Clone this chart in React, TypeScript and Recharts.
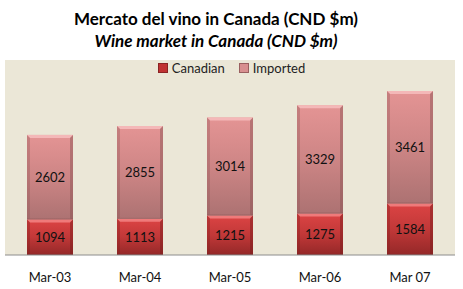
import { BarChart, Bar, XAxis, YAxis, CartesianGrid, LabelList } from 'recharts';

document.body.style.margin = '0';

const categories = ['Mar-03', 'Mar-04', 'Mar-05', 'Mar-06', 'Mar 07'];
const canadian = [1094, 1113, 1215, 1275, 1584];
const imported = [2602, 2855, 3014, 3329, 3461];

const data = categories.map((period, i) => ({
    period,
    canadian: canadian[i],
    imported: imported[i],
}));

const FONT = 'Lato, "Open Sans", sans-serif';

// bar with a bevelled edge, like the Excel look
const BevelBar = (props: any) => {
    const { x, y, width, height, id } = props;
    if (!height || height <= 0) return null;
    const b = 3;
    const light = id === 'canadian' ? '#ef7a7a' : '#f4b8b8';
    const dark = id === 'canadian' ? '#7a1e1e' : '#8c5656';
    return (
        <g>
            <rect x={x} y={y} width={width} height={height} fill={`url(#grad-${id})`} />
            <polygon points={`${x},${y} ${x + width},${y} ${x + width - b},${y + b} ${x + b},${y + b}`} fill={light} />
            <polygon points={`${x},${y} ${x + b},${y + b} ${x + b},${y + height - 1} ${x},${y + height}`} fill={dark} opacity={0.35} />
            <polygon points={`${x + width},${y} ${x + width - b},${y + b} ${x + width - b},${y + height - 1} ${x + width},${y + height}`} fill={dark} opacity={0.5} />
            <rect x={x} y={y + height - 1} width={width} height={1} fill={dark} opacity={0.5} />
        </g>
    );
};

export default function App() {
    return (
        <div style={{ position: 'relative', width: 463, height: 289, background: '#fff' }}>
            {/* Title */}
            <div style={{ position: 'absolute', top: 8, left: 0, width: 432, textAlign: 'center', fontFamily: FONT, fontSize: 17, fontWeight: 'bold', color: '#000', lineHeight: '22px' }}>
                <div>Mercato del vino in Canada (CND $m)</div>
                <div style={{ fontStyle: 'italic' }}>Wine market in Canada (CND $m)</div>
            </div>

            <BarChart width={463} height={289} data={data} margin={{ top: 60, right: 8, left: 5, bottom: 0 }} barSize={46}>
                <defs>
                    <linearGradient id="grad-canadian" x1="0" y1="0" x2="0" y2="1">
                        <stop offset="0%" stopColor="#dc4444" />
                        <stop offset="50%" stopColor="#c13838" />
                        <stop offset="100%" stopColor="#942828" />
                    </linearGradient>
                    <linearGradient id="grad-imported" x1="0" y1="0" x2="0" y2="1">
                        <stop offset="0%" stopColor="#e49494" />
                        <stop offset="50%" stopColor="#cd8585" />
                        <stop offset="100%" stopColor="#ac7272" />
                    </linearGradient>
                </defs>
                <CartesianGrid fill="#ebe7d7" horizontal={false} vertical={false} />
                <XAxis
                    dataKey="period"
                    height={34}
                    axisLine={{ stroke: '#8c8c8c' }}
                    tickLine={false}
                    tick={{ fill: '#111', fontSize: 13, fontFamily: FONT }}
                    dy={10}
                />
                <YAxis hide domain={[0, 6000]} />
                <Bar dataKey="canadian" name="Canadian" stackId="a" isAnimationActive={false} shape={(p: any) => <BevelBar {...p} id="canadian" />}>
                    <LabelList dataKey="canadian" position="center" fill="#111" fontSize={13} fontFamily={FONT} />
                </Bar>
                <Bar dataKey="imported" name="Imported" stackId="a" isAnimationActive={false} shape={(p: any) => <BevelBar {...p} id="imported" />}>
                    <LabelList dataKey="imported" position="center" fill="#111" fontSize={13} fontFamily={FONT} />
                </Bar>
            </BarChart>

            {/* Legend */}
            <div style={{ position: 'absolute', top: 60, left: 0, width: 463, display: 'flex', justifyContent: 'center', gap: 14, fontFamily: FONT, fontSize: 13, color: '#222', lineHeight: '16px' }}>
                <span style={{ display: 'flex', alignItems: 'center', gap: 4 }}>
                    <span style={{ width: 8, height: 8, background: '#c03333', border: '1px solid #8a2424', display: 'inline-block' }} />
                    Canadian
                </span>
                <span style={{ display: 'flex', alignItems: 'center', gap: 4 }}>
                    <span style={{ width: 8, height: 8, background: '#d89090', border: '1px solid #9a6060', display: 'inline-block' }} />
                    Imported
                </span>
            </div>
        </div>
    );
}
